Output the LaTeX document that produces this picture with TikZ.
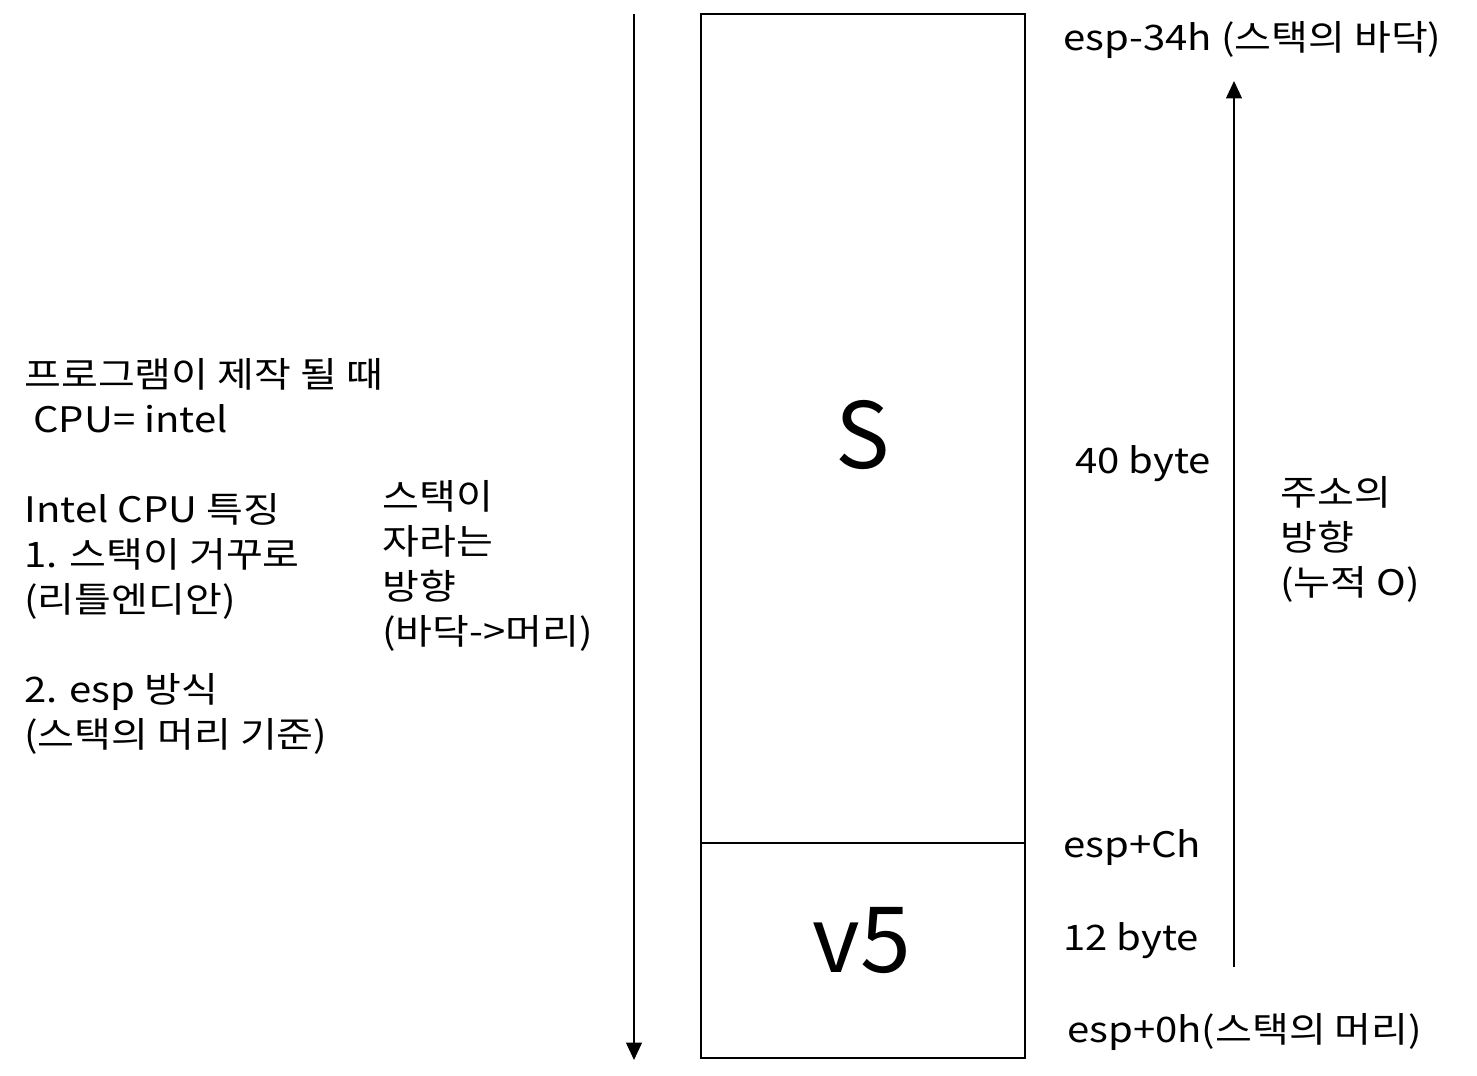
\documentclass[tikz,border=0pt]{standalone}
\usepackage{fontspec}
\setmainfont{Noto Sans CJK KR}
\newfontfamily\widefont[FakeStretch=1.14]{Noto Sans CJK KR}
\usetikzlibrary{arrows.meta, positioning}
\tikzset{
  txt/.style   = {inner sep=0pt, align=left,
                  font=\widefont\fontsize{20pt}{25.6pt}\selectfont},
  big/.style   = {inner sep=0pt, font=\fontsize{52pt}{60pt}\selectfont},
  slot/.style  = {draw=black, line width=1.2pt},
  dirarrow/.style = {-{Triangle[length=3.5mm, width=3.2mm]}, draw=black,
                  line width=0.8pt},
}
\begin{document}
\begin{tikzpicture}[x=0.02cm, y=-0.02cm]
  \useasboundingbox (0,0) rectangle (1477,1075);

  %% ---------------- the stack frame ----------------
  \coordinate (top) at (701,14);
  \coordinate (bot) at (1025,1058);
  \draw[slot] (top) rectangle (bot);
  \draw[line width=0.8pt] (701,843) coordinate (divl) -- (1025,843) coordinate (divr);
  \node[big] (s) at (863,435) {S};
  \node[big] (v5) at (862,941) {v5};

  %% ---------------- the two arrows ----------------
  \coordinate (downtop) at (634,14);
  \coordinate (downend) at (634,1060);
  \draw[dirarrow] (downtop) -- (downend);
  \coordinate (uptail) at (1234,967);
  \coordinate (uphead) at (1234,81);
  \draw[dirarrow] (uptail) -- (uphead);

  %% ---------------- offsets ----------------
  \node[txt, anchor=mid west] (bottom) at (1063,46) {esp-34h (스택의 바닥)};
  \node[txt, anchor=mid west] (size40) at (1075,469) {40 byte};
  \node[txt, anchor=mid west] (espc) at (1063,853) {esp+Ch};
  \node[txt, anchor=mid west] (size12) at (1063,946) {12 byte};
  \node[txt, anchor=mid west] (head) at (1067,1038) {esp+0h(스택의 머리)};

  %% ---------------- notes ----------------
  \node[txt, anchor=north west] (addr) at (1280,476)
       {주소의\\방향\\(누적 O)};
  \node[txt, anchor=north west] (dir) at (382,480)
       {스택이\\자라는\\방향\\(바닥->머리)};
  \node[txt, anchor=north west] (intel) at (24,358)
       {프로그램이 제작 될 때\\
        \ CPU= intel\\
        ~\\
        Intel CPU 특징\\
        1. 스택이 거꾸로\\
        (리틀엔디안)\\
        ~\\
        2. esp 방식\\
        (스택의 머리 기준)};

\end{tikzpicture}
\end{document}
